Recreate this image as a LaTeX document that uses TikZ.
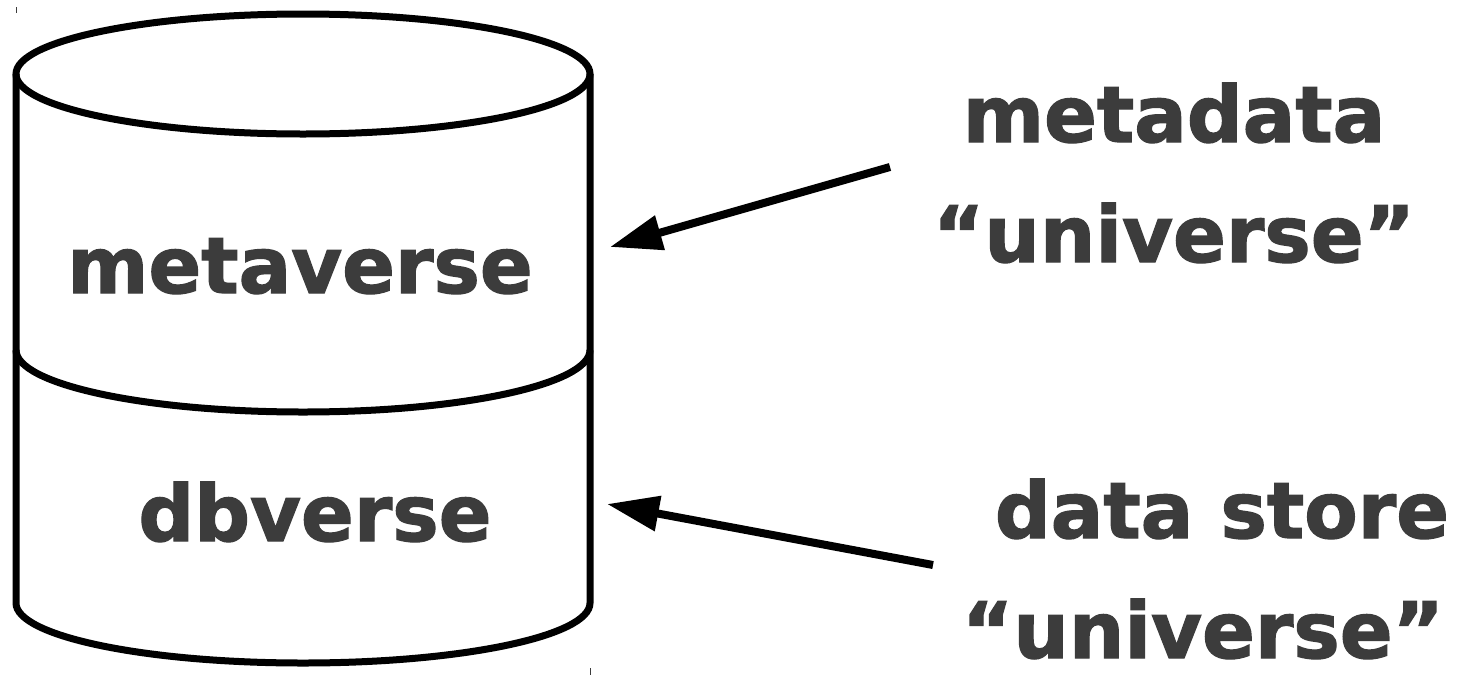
\documentclass[tikz,border=0pt]{standalone}
\usepackage{fontspec}
\setmainfont{DejaVu Sans}
\newfontfamily\heavyfont{DejaVu Sans Bold}[FakeBold=1.6]
\usetikzlibrary{arrows.meta}
\definecolor{labelgray}{RGB}{60,60,60}

\begin{document}
\begin{tikzpicture}[x=1pt,y=-1pt,
  dbline/.style={line width=7pt},
  lbl/.style={text=labelgray, font=\fontsize{78}{90}\heavyfont, inner sep=0pt, anchor=base},
  pointer/.style={line width=8pt, -{Triangle[length=52pt,width=34pt]}}]
  \fill[white] (0,0) rectangle (1471,675);
  \useasboundingbox (0,0) rectangle (1471,675);

  % cylinder
  \draw[dbline] (303,74) ellipse [x radius=287pt, y radius=60pt];
  \draw[dbline] (16,74) -- (16,603) arc [start angle=180, end angle=360, x radius=287pt, y radius=60pt] -- (590,74);
  \draw[dbline] (16,350) arc [start angle=180, end angle=360, x radius=287pt, y radius=62pt];

  % crop marks
  \draw[labelgray, line width=1pt] (16,7) -- (16,13);
  \draw[labelgray, line width=1pt] (590,668) -- (590,675);

  \node[lbl] (metaverse) at (300,293) {metaverse};
  \node[lbl] (dbverse) at (315,541) {dbverse};

  \node[lbl] (metadata) at (1174,142) {metadata};
  \node[lbl] (metaUniv) at (1174,262) {“universe”};
  \node[lbl] (datastore) at (1222,538) {data store};
  \node[lbl] (storeUniv) at (1203,658) {“universe”};

  % arrows
  \coordinate (metaTail) at (890,167);
  \coordinate (metaTip) at (610,247);
  \coordinate (storeTail) at (933,565);
  \coordinate (storeTip) at (607,504);
  \draw[pointer] (metaTail) -- (metaTip);
  \draw[pointer] (storeTail) -- (storeTip);
\end{tikzpicture}
\end{document}
